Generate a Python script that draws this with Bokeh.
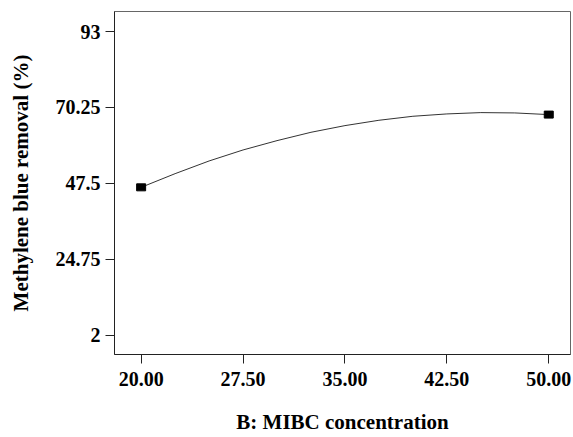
from bokeh.plotting import figure
from bokeh.models import Range1d, FixedTicker
from bokeh.embed import file_html
from bokeh.resources import INLINE

# Design points (actual)
design_x = [20.0, 50.0]
design_y = [46.3, 68.1]

# Model prediction curve
curve_x = [20.0, 22.5, 25.0, 27.5, 30.0, 32.5, 35.0, 37.5, 40.0, 42.5, 45.0, 47.5, 50.0]
curve_y = [46.3, 50.4, 54.2, 57.5, 60.3, 62.8, 64.8, 66.4, 67.6, 68.3, 68.7, 68.6, 68.1]

x_ticks = [20.0, 27.5, 35.0, 42.5, 50.0]
x_tick_labels = ["20.00", "27.50", "35.00", "42.50", "50.00"]
y_ticks = [2, 24.75, 47.5, 70.25, 93]
y_tick_labels = ["2", "24.75", "47.5", "70.25", "93"]

FONT = "Liberation Serif"

p = figure(width=573, height=437, output_backend="svg", toolbar_location=None,
           x_range=Range1d(18.04, 51.6), y_range=Range1d(-3.8, 99.0),
           min_border_left=114, min_border_right=3, min_border_top=11, min_border_bottom=83)

p.line(curve_x, curve_y, line_color="#333333", line_width=1)
p.rect(design_x, design_y, width=9, height=7, width_units="screen", height_units="screen",
       fill_color="black", line_color="black")

p.grid.visible = False
p.outline_line_color = "#666666"
p.outline_line_width = 1

p.xaxis.ticker = FixedTicker(ticks=x_ticks)
p.xaxis.major_label_overrides = dict(zip(x_ticks, x_tick_labels))
p.yaxis.ticker = FixedTicker(ticks=y_ticks)
p.yaxis.major_label_overrides = dict(zip(y_ticks, y_tick_labels))

for ax in (p.xaxis, p.yaxis):
    ax.axis_line_color = "#222222"
    ax.major_tick_line_color = "#222222"
    ax.major_tick_out = 9
    ax.major_tick_in = 0
    ax.minor_tick_line_color = None
    ax.major_label_text_font = FONT
    ax.major_label_text_font_style = "bold"
    ax.major_label_text_font_size = "20px"
    ax.major_label_text_color = "black"
    ax.axis_label_text_font = FONT
    ax.axis_label_text_font_style = "bold"
    ax.axis_label_text_font_size = "21px"
    ax.axis_label_text_color = "black"

p.xaxis.axis_label = "B: MIBC concentration"
p.yaxis.axis_label = "Methylene blue removal (%)"
p.xaxis.major_label_standoff = 8
p.yaxis.major_label_standoff = 5
p.xaxis.axis_label_standoff = 21
p.yaxis.axis_label_standoff = 20

open("out.html", "w").write(file_html(p, INLINE))
